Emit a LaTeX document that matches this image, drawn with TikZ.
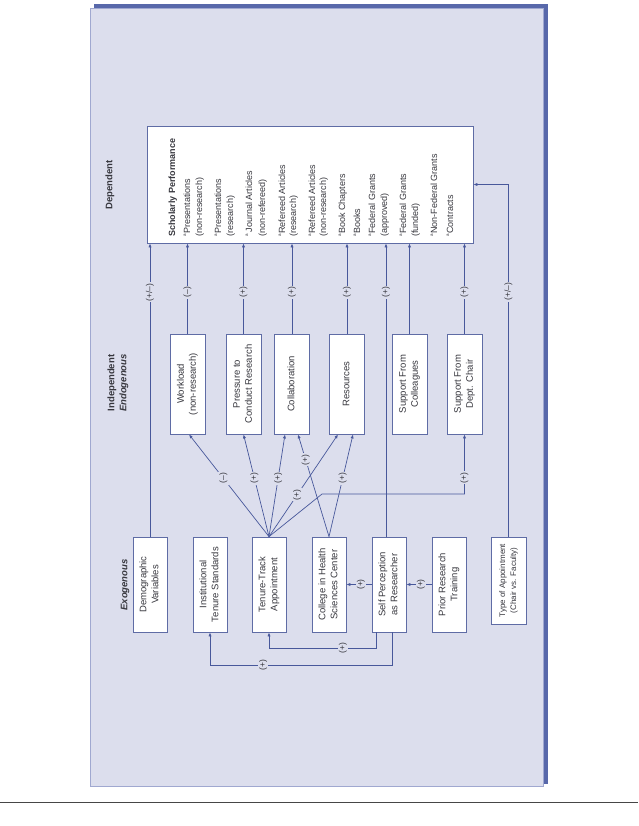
\documentclass[tikz,border=0pt]{standalone}
\usepackage{fontspec}
\setmainfont{Liberation Sans}
\usetikzlibrary{arrows.meta,calc}
\definecolor{panelfill}{RGB}{220,222,237}
\definecolor{panelborder}{RGB}{160,168,208}
\definecolor{shadowcol}{RGB}{88,104,170}
\definecolor{linecol}{RGB}{72,88,155}
\definecolor{boxcol}{RGB}{95,108,165}
\definecolor{txtcol}{RGB}{55,55,62}
\definecolor{rulecol}{RGB}{70,70,70}
\newcommand\rt[1]{\rotatebox{90}{\begin{tabular}{@{}c@{}}#1\end{tabular}}}
\newcommand\sa{\textsuperscript{\fontsize{4.5}{5}\selectfont a}}
\begin{document}
\begin{tikzpicture}[x=1pt,y=-1pt,
  box/.style={draw=boxcol, line width=0.8pt, fill=white, inner sep=0pt, text=txtcol,
    font=\fontsize{9.5}{12}\selectfont},
  exo/.style={box, minimum width=34pt, minimum height=95pt},
  endo/.style={box, minimum width=35pt, minimum height=100pt},
  arr/.style={draw=linecol, line width=0.7pt, -{Latex[length=4pt,width=3.2pt]}},
  lab/.style={fill=panelfill, inner sep=1.2pt, rotate=90, text=txtcol,
    font=\fontsize{8.5}{9}\selectfont},
  hdr/.style={rotate=90, inner sep=0pt, text=txtcol, font=\fontsize{9.5}{11}\selectfont\bfseries},
  ln/.style={rotate=90, anchor=base west, inner sep=0pt, text=txtcol,
    font=\fontsize{9}{11}\selectfont}]
\fill[white] (0,0) rectangle (638,826);
\useasboundingbox (0,0) rectangle (638,826);
% panel
\fill[shadowcol] (94,4) rectangle (548,784);
\draw[panelborder, fill=panelfill, line width=0.8pt] (90,8) rectangle (543,786);
\draw[rulecol, line width=1pt] (0,802) -- (638,802);
% headers
\node[hdr, font=\fontsize{9.5}{11}\selectfont\bfseries\itshape] (hexo) at (125,585) {Exogenous};
\node[hdr] (hind) at (112,383) {Independent};
\node[hdr, font=\fontsize{9.5}{11}\selectfont\bfseries\itshape] (hendo) at (124,383) {Endogenous};
\node[hdr] (hdep) at (110,185) {Dependent};
% exogenous
\node[exo] (demo)  at (150,584.5) {\rt{Demographic\\Variables}};
\node[exo] (inst)  at (210,584.5) {\rt{Institutional\\Tenure Standards}};
\node[exo] (tt)    at (269,584.5) {\rt{Tenure-Track\\Appointment}};
\node[exo] (col)   at (329,584.5) {\rt{College in Health\\Sciences Center}};
\node[exo] (self)  at (389,584.5) {\rt{Self Perception\\as Researcher}};
\node[exo] (prior) at (449,584.5) {\rt{Prior Research\\Training}};
\node[box, minimum width=35pt, minimum height=87pt, font=\fontsize{8}{11}\selectfont] (type) at (508.5,580.5) {\rt{Type of Appointment\\(Chair vs. Faculty)}};
% endogenous
\node[endo] (work)   at (187.5,384) {\rt{Workload\\(non-research)}};
\node[endo] (press)  at (243.5,384) {\rt{Pressure to\\Conduct Research}};
\node[endo] (collab) at (292,384) {\rt{Collaboration}};
\node[endo] (res)    at (347,384) {\rt{Resources}};
\node[endo] (colg)   at (409.5,384) {\rt{Support From\\Colleagues}};
\node[endo] (chair)  at (464.5,384) {\rt{Support From\\Dept. Chair}};
% dependent
\node[box, minimum width=326pt, minimum height=117pt] (sp) at (310,184.5) {};
\node[ln, font=\fontsize{9}{11}\selectfont\bfseries] (s0) at (175,237) {Scholarly Performance};
\node[ln] (s1)  at (190,237) {\sa Presentations};
\node[ln] (s2)  at (202,237) {(non-research)};
\node[ln] (s3)  at (221,237) {\sa Presentations};
\node[ln] (s4)  at (233,237) {(research)};
\node[ln] (s5)  at (252,237) {\sa\,Journal Articles};
\node[ln] (s6)  at (265,237) {(non-refereed)};
\node[ln] (s7)  at (285,237) {\sa Refereed Articles};
\node[ln] (s8)  at (296,237) {(research)};
\node[ln] (s9)  at (315,237) {\sa Refereed Articles};
\node[ln] (s10) at (326,237) {(non-research)};
\node[ln] (s11) at (345,237) {\sa Book Chapters};
\node[ln] (s12) at (360,237) {\sa Books};
\node[ln] (s13) at (375,237) {\sa Federal Grants};
\node[ln] (s14) at (387,237) {(approved)};
\node[ln] (s15) at (406,237) {\sa Federal Grants};
\node[ln] (s16) at (418,237) {(funded)};
\node[ln] (s17) at (437,237) {\sa Non-Federal Grants};
\node[ln] (s18) at (453,237) {\sa Contracts};
% connectors to dependent
\draw[arr] (demo.north) -- node[lab,pos=0.833]{(+/–)} (demo.north |- sp.south);
\draw[arr] (work.north) -- node[lab,pos=0.46]{(–)} (work.north |- sp.south);
\draw[arr] (press.north) -- node[lab,pos=0.46]{(+)} (press.north |- sp.south);
\draw[arr] (collab.north) -- node[lab,pos=0.46]{(+)} (collab.north |- sp.south);
\draw[arr] (res.north) -- node[lab,pos=0.46]{(+)} (res.north |- sp.south);
\draw[arr] ([xshift=-3pt]self.north) -- node[lab,pos=0.833]{(+)} ([xshift=-3pt]self.north |- sp.south);
\draw[arr] (colg.north) -- (colg.north |- sp.south);
\draw[arr] (chair.north) -- node[lab,pos=0.46]{(+)} (chair.north |- sp.south);
\draw[arr] (type.north) |- node[lab,pos=0.3475]{(+/–)} (sp.east);
% tenure-track fan
\draw[arr] (tt.north) -- node[lab,pos=0.57]{(–)} ([xshift=1.5pt]work.south);
\draw[arr] (tt.north) -- node[lab,pos=0.57]{(+)} (press.south);
\draw[arr] (tt.north) -- node[lab,pos=0.57]{(+)} ([xshift=-7pt]collab.south);
\draw[arr] (tt.north) -- node[lab,pos=0.41]{(+)} ([xshift=-9pt]res.south);
\coordinate (bend) at (322,494);
\draw[arr] (tt.north) -- (bend) -| node[lab,pos=0.635]{(+)} (chair.south);
% college fan
\draw[arr] (col.north) -- node[lab,pos=0.75]{(+)} ([xshift=6pt]collab.south);
\draw[arr] (col.north) -- node[lab,pos=0.57]{(+)} ([xshift=6pt]res.south);
% horizontal
\draw[arr] (prior.west) -- node[lab,pos=0.42]{(+)} (self.east);
\draw[arr] (self.west) -- node[lab,pos=0.42]{(+)} (col.east);
% below
\draw[arr] ([xshift=-13pt]self.south) |- node[lab,pos=0.654]{(+)} ($(tt.south)+(0,16)$) -- (tt.south);
\draw[arr] ([xshift=3pt]self.south) |- node[lab,pos=0.854]{(+)} ($(inst.south)+(0,33)$) -- (inst.south);
\end{tikzpicture}
\end{document}
